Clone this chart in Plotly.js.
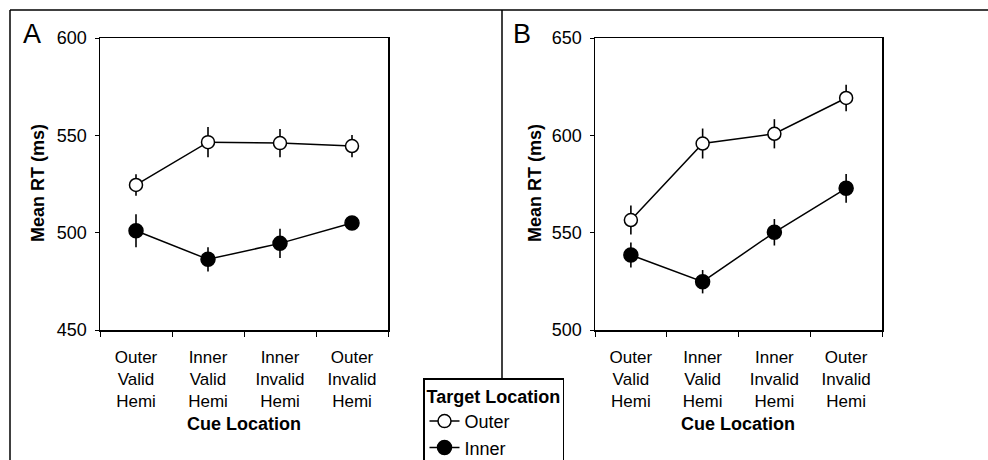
<!DOCTYPE html>
<html>
<head>
<meta charset="utf-8">
<script src="https://cdn.plot.ly/plotly-3.0.1.min.js"></script>
<style>html,body{margin:0;padding:0;background:#fff;}#chart{width:988px;height:460px;}</style>
</head>
<body>
<div id="chart"></div>
<script>
// ---- data ----
const categories = ["Outer<br>Valid<br>Hemi", "Inner<br>Valid<br>Hemi", "Inner<br>Invalid<br>Hemi", "Outer<br>Invalid<br>Hemi"];
const seriesNames = ["Outer", "Inner"];
const panelA_outer = [524.5, 546.5, 546.0, 544.5];
const panelA_outer_err = [5.5, 7.8, 7.2, 5.7];
const panelA_inner = [501.0, 486.3, 494.5, 505.0];
const panelA_inner_err = [8.5, 6.2, 7.5, 2.5];
const panelB_outer = [556.5, 595.8, 600.8, 619.2];
const panelB_outer_err = [7.4, 7.7, 7.5, 6.8];
const panelB_inner = [538.5, 524.8, 550.2, 572.8];
const panelB_inner_err = [6.4, 6.0, 6.8, 7.4];
const panelLabels = ["A", "B"];
const yTicksA = [450, 500, 550, 600];
const yTicksB = [500, 550, 600, 650];
const xTitle = "Cue Location";
const yTitle = "Mean RT (ms)";
const legendTitle = "Target Location";

const FONT = "Liberation Sans, Arial, Helvetica, sans-serif";

function trace(y, err, name, filled, xa, ya, showlegend) {
  return {
    x: categories, y: y, name: name, type: "scatter", mode: "lines+markers",
    xaxis: xa, yaxis: ya, showlegend: showlegend, legendgroup: name,
    line: {color: "#000", width: 1.5},
    marker: {symbol: "circle", size: filled ? 14 : 13, color: filled ? "#000" : "#fff",
             line: {color: "#000", width: 1.5}},
    error_y: {type: "data", array: err, visible: true, color: "#000", thickness: 1.6, width: 0}
  };
}

const data = [
  trace(panelA_outer, panelA_outer_err, seriesNames[0], false, "x", "y", true),
  trace(panelA_inner, panelA_inner_err, seriesNames[1], true, "x", "y", true),
  trace(panelB_outer, panelB_outer_err, seriesNames[0], false, "x2", "y2", false),
  trace(panelB_inner, panelB_inner_err, seriesNames[1], true, "x2", "y2", false)
];

// pixel helpers (plot area: left 100, right 882, top 38, bottom 330)
const L = 100, R = 882, T = 38, B = 330;
const W = R - L, H = B - T;
const px = v => (v - L) / W;
const py = v => (B - v) / H;

function xaxisDef(x0, x1) {
  return {
    domain: [px(x0), px(x1)], type: "category", categoryorder: "array", categoryarray: categories,
    range: [-0.5, 3.5], tickson: "boundaries", ticks: "outside", ticklen: 5, tickwidth: 1,
    tickcolor: "#000", showline: true, linecolor: "#000", linewidth: 1.5, mirror: true,
    showgrid: false, zeroline: false, automargin: false, fixedrange: true,
    tickfont: {family: FONT, size: 17, color: "#000"}, ticklabelstandoff: 11
  };
}
function yaxisDef(ticks, anchor) {
  return {
    domain: [0, 1], range: [ticks[0], ticks[ticks.length - 1]], tickvals: ticks, anchor: anchor,
    ticks: "outside", ticklen: 4, tickwidth: 1, tickcolor: "#000",
    showline: true, linecolor: "#000", linewidth: 1.5, mirror: true,
    showgrid: false, zeroline: false, automargin: false, fixedrange: true,
    tickfont: {family: FONT, size: 18, color: "#000"}, ticklabelstandoff: 4
  };
}

const titleFont = {family: FONT, size: 18, color: "#000", weight: "bold"};
function ann(text, x, y, angle, font) {
  return {text: text, xref: "paper", yref: "paper", x: px(x), y: py(y), showarrow: false,
          textangle: angle, font: font, xanchor: "center", yanchor: "middle"};
}

const lineStyle = {color: "#000", width: 1.5};
const layout = {
  width: 988, height: 460,
  margin: {l: L, r: 988 - R, t: T, b: 460 - B, pad: 0},
  paper_bgcolor: "#fff", plot_bgcolor: "#fff",
  font: {family: FONT, color: "#000"},
  xaxis: xaxisDef(100, 388),
  yaxis: yaxisDef(yTicksA, "x"),
  xaxis2: Object.assign(xaxisDef(595, 882), {anchor: "y2"}),
  yaxis2: yaxisDef(yTicksB, "x2"),
  showlegend: true,
  legend: {
    xref: "paper", yref: "container",
    x: px(423), y: 1 - 378 / 460, xanchor: "left", yanchor: "top",
    bgcolor: "#fff", bordercolor: "#000", borderwidth: 1.5,
    font: {family: FONT, size: 18, color: "#000"},
    title: {text: legendTitle, font: {family: FONT, size: 18, color: "#000", weight: "bold"}},
    traceorder: "normal"
  },
  shapes: [
    {type: "line", xref: "paper", yref: "paper", x0: px(10), x1: px(988), y0: py(10), y1: py(10), line: lineStyle},
    {type: "line", xref: "paper", yref: "paper", x0: px(10), x1: px(10), y0: py(10), y1: py(470), line: lineStyle},
    {type: "line", xref: "paper", yref: "paper", x0: px(502), x1: px(502), y0: py(10), y1: py(378), line: lineStyle}
  ],
  annotations: [
    ann(panelLabels[0], 32, 34, 0, {family: FONT, size: 27, color: "#000"}),
    ann(panelLabels[1], 522, 34, 0, {family: FONT, size: 27, color: "#000"}),
    ann(xTitle, 244, 424, 0, titleFont),
    ann(xTitle, 738, 424, 0, titleFont),
    ann(yTitle, 38, 183, -90, titleFont),
    ann(yTitle, 535, 183, -90, titleFont)
  ]
};

Plotly.newPlot("chart", data, layout, {displayModeBar: false, staticPlot: true});
</script>
</body>
</html>
